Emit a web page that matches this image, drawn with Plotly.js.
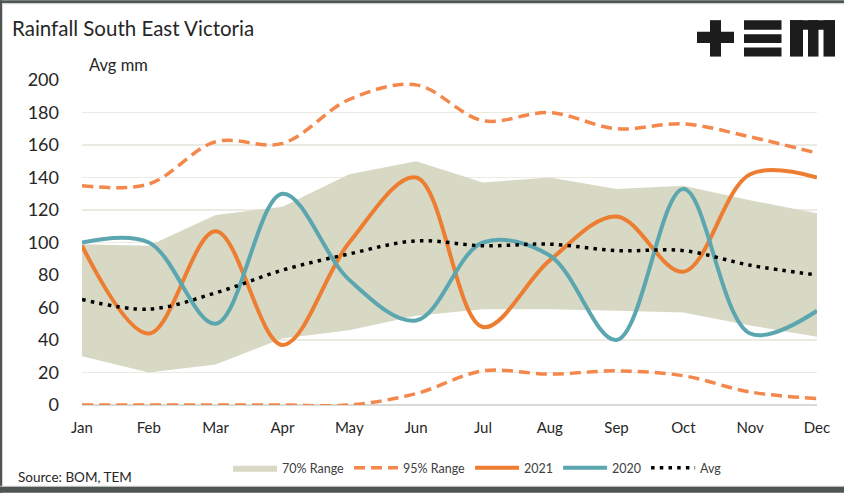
<!DOCTYPE html>
<html>
<head>
<meta charset="utf-8">
<script src="https://cdn.plot.ly/plotly-3.0.1.min.js"></script>
<style>
html,body{margin:0;padding:0;background:#ffffff;}
#chart{width:844px;height:494px;}
</style>
</head>
<body>
<div id="chart"></div>
<script>
// ---- data ----
const months = ['Jan','Feb','Mar','Apr','May','Jun','Jul','Aug','Sep','Oct','Nov','Dec'];
const range70Low  = [30, 20, 25, 41, 46, 55, 59, 59, 58, 57, 49, 42];
const range70High = [99, 98, 117, 122, 142, 150, 137, 140, 133, 135, 126, 118];
const range95High = [135, 136, 162, 161, 188, 197, 175, 180, 170, 173, 165, 155];
const range95Low  = [0, 0, 0, 0, 0, 7, 21, 19, 21, 18, 8, 4];
const rain2021    = [98, 44, 107, 37, 100, 140, 48, 89, 116, 82, 142, 140];
const rain2020    = [100, 100, 50, 130, 77, 52, 100, 92, 40, 133, 44, 58];
const avgRain     = [65, 59, 69, 83, 93, 101, 98, 99, 95, 95, 86, 80];

const FONT = 'Lato, "Open Sans", sans-serif';
const TXT = '#262626';

// plot area in pixels: x 82..817, y 80..406
const L = 82, R = 817, T = 80, B = 406;
const px = v => (v - L) / (R - L);
const py = v => (B - v) / (B - T);
function rect(x0, y0, x1, y1, color) {
  return {type:'rect', xref:'paper', yref:'paper', layer:'above',
          x0:px(x0), x1:px(x1), y0:py(y1), y1:py(y0),
          fillcolor:color, line:{width:0}};
}

const traces = [
  {x:months, y:range70Low, mode:'lines', line:{width:0, color:'#d8d9c5'},
   showlegend:false, hoverinfo:'skip', cliponaxis:false},
  {x:months, y:range70High, mode:'lines', name:'70% Range', fill:'tonexty',
   fillcolor:'#d8d9c5', line:{width:0, color:'#d8d9c5'}, cliponaxis:false},
  {x:months, y:range95High, mode:'lines', name:'95% Range', legendgroup:'r95',
   line:{color:'#f4874b', width:3.5, dash:'11px,6px', shape:'spline', smoothing:1}, cliponaxis:false},
  {x:months, y:range95Low, mode:'lines', name:'95% Range', legendgroup:'r95', showlegend:false,
   line:{color:'#f4874b', width:3.5, dash:'11px,6px', shape:'spline', smoothing:1}, cliponaxis:false},
  {x:months, y:rain2021, mode:'lines', name:'2021',
   line:{color:'#ed7d31', width:4, shape:'spline', smoothing:1}, cliponaxis:false},
  {x:months, y:rain2020, mode:'lines', name:'2020',
   line:{color:'#5ca6b0', width:4, shape:'spline', smoothing:1}, cliponaxis:false},
  {x:months, y:avgRain, mode:'lines', name:'Avg',
   line:{color:'#000000', width:3.5, dash:'3.5px,5.2px', shape:'spline', smoothing:1}, cliponaxis:false}
];

const shapes = [
  // frame
  rect(0, 0, 844, 3, '#4f5554'),
  rect(0, 3, 844, 4, '#d4d4d0'),
  rect(0, 0, 2, 494, '#4f5554'),
  rect(2, 4, 3, 487, '#d4d4d0'),
  rect(0, 487, 844, 488, '#d4d4d0'),
  rect(0, 488, 844, 494, '#4f5554'),
  // logo: plus
  rect(697, 31.5, 734, 43, '#1c1c1c'),
  rect(710, 20, 721, 56.5, '#1c1c1c'),
  // logo: three bars
  rect(744, 20, 781.5, 29.5, '#1c1c1c'),
  rect(744, 34, 781.5, 43, '#1c1c1c'),
  rect(744, 47.5, 781.5, 56.5, '#1c1c1c'),
  // logo: m
  rect(790, 20, 835, 29.5, '#1c1c1c'),
  rect(790, 20, 803, 56.5, '#1c1c1c'),
  rect(808, 20, 818.5, 56.5, '#1c1c1c'),
  rect(823.5, 20, 835, 56.5, '#1c1c1c')
];

const layout = {
  width:844, height:494,
  paper_bgcolor:'#ffffff', plot_bgcolor:'#ffffff',
  margin:{l:L, r:844-R, t:T, b:494-B},
  font:{family:FONT, color:TXT},
  title:{text:'Rainfall South East Victoria', x:12/844, xanchor:'left', xref:'container',
         y:1-29/494, yref:'container', yanchor:'middle', font:{family:FONT, size:20.5, color:TXT}},
  xaxis:{type:'category', range:[0,11], showgrid:false, zeroline:false, showline:false,
         ticks:'', tickfont:{family:FONT, size:15, color:TXT}, ticklabelstandoff:12, fixedrange:true},
  yaxis:{range:[0,200], dtick:20, showgrid:true, gridcolor:'#ebebe3', gridwidth:1.5,
         zeroline:true, zerolinecolor:'#d9d9d6', zerolinewidth:1.5, showline:false, ticks:'',
         tickfont:{family:FONT, size:18, color:TXT}, ticklabelstandoff:22, fixedrange:true},
  legend:{orientation:'h', x:px(228), xanchor:'left', y:py(468), yanchor:'middle',
          font:{family:FONT, size:12.5, color:'#404040'}, itemwidth:44, bgcolor:'rgba(0,0,0,0)'},
  annotations:[
    {text:'Avg mm', xref:'paper', yref:'paper', x:px(87), y:py(65), xanchor:'left', yanchor:'middle',
     showarrow:false, font:{family:FONT, size:16.5, color:TXT}},
    {text:'Source: BOM, TEM', xref:'paper', yref:'paper', x:px(16), y:py(478), xanchor:'left', yanchor:'middle',
     showarrow:false, font:{family:FONT, size:13.5, color:TXT}}
  ],
  shapes:shapes,
  hovermode:false
};

Plotly.newPlot('chart', traces, layout, {displayModeBar:false, staticPlot:true});
</script>
</body>
</html>
